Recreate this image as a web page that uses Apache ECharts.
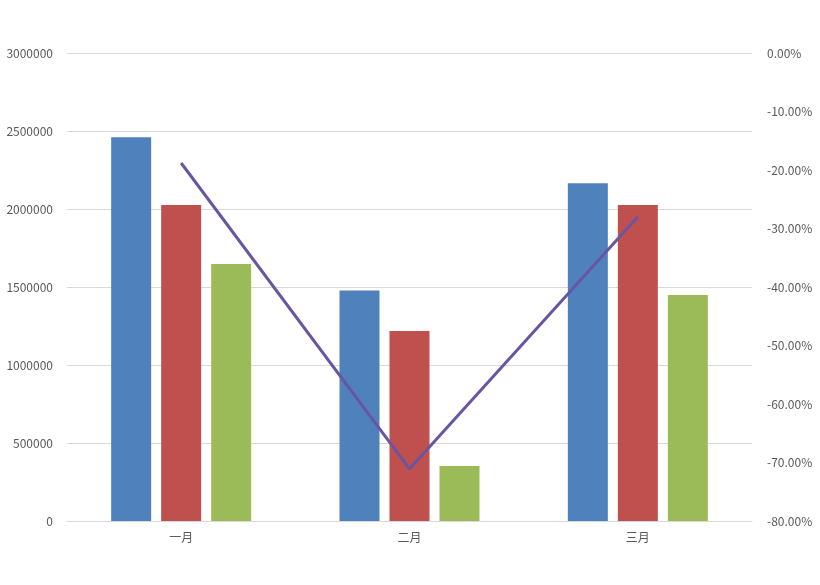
<!DOCTYPE html>
<html><head><meta charset="utf-8">
<script src="https://cdn.jsdelivr.net/npm/echarts@6/dist/echarts.min.js"></script>
<style>html,body{margin:0;padding:0;background:#fff}#c{width:820px;height:585px}</style>
</head><body><div id="c"></div>
<script>
const categories = ['一月', '二月', '三月'];
const seriesA = [2460000, 1477000, 2165000];
const seriesB = [2025000, 1218000, 2025000];
const seriesC = [1648000, 352000, 1449000];
const growth = [-18.8, -71.1, -28.0];
const leftTicks = [0, 3000000, 500000];
const rightTicks = [-80, 0, 10];

const chart = echarts.init(document.getElementById('c'), null, {renderer: 'canvas'});
const lbl = {color: '#595959', fontSize: 12, fontFamily: '"Noto Sans CJK SC", "Liberation Sans", sans-serif'};
chart.setOption({
  animation: false,
  backgroundColor: '#fff',
  grid: {left: 67, right: 68, top: 53, bottom: 64, containLabel: false},
  xAxis: {
    type: 'category', data: categories,
    axisLine: {show: true, lineStyle: {color: '#d9d9d9'}},
    axisTick: {show: false},
    axisLabel: Object.assign({margin: 10}, lbl)
  },
  yAxis: [{
    type: 'value', min: leftTicks[0], max: leftTicks[1], interval: leftTicks[2],
    axisLine: {show: false}, axisTick: {show: false},
    splitLine: {lineStyle: {color: '#d9d9d9', width: 1}},
    axisLabel: Object.assign({margin: 14, formatter: v => String(v)}, lbl)
  }, {
    type: 'value', min: rightTicks[0], max: rightTicks[1], interval: rightTicks[2],
    axisLine: {show: false}, axisTick: {show: false},
    splitLine: {show: false},
    axisLabel: Object.assign({margin: 15, formatter: v => v.toFixed(2) + '%'}, lbl)
  }],
  series: [
    {type: 'bar', data: seriesA, barWidth: 40, barGap: '25%', itemStyle: {color: '#4F81BD'}},
    {type: 'bar', data: seriesB, barWidth: 40, barGap: '25%', itemStyle: {color: '#C0504D'}},
    {type: 'bar', data: seriesC, barWidth: 40, barGap: '25%', itemStyle: {color: '#9BBB59'}},
    {type: 'line', yAxisIndex: 1, data: growth, showSymbol: false, symbol: 'none',
     lineStyle: {color: '#6A55A3', width: 3}, z: 5}
  ]
});
</script></body></html>
